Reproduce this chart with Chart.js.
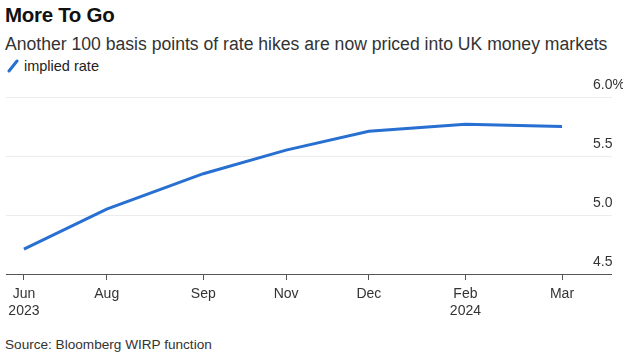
<!DOCTYPE html>
<html>
<head>
<meta charset="utf-8">
<script src="https://cdn.jsdelivr.net/npm/chart.js@4/dist/chart.umd.min.js"></script>
<style>
  body { margin: 0; background: #fff; font-family: "Liberation Sans", Arial, sans-serif; }
  #wrap { position: relative; width: 627px; height: 364px; overflow: hidden; }
  .txt { position: absolute; white-space: nowrap; }
  #title { left: 5px; top: 3px; font-size: 20.5px; font-weight: bold; color: #111; letter-spacing: -0.3px; }
  #subtitle { left: 5px; top: 34px; font-size: 17.6px; color: #333; }
  #legend { left: 7px; top: 58px; font-size: 14.5px; color: #222; }
  #legend svg { vertical-align: -2px; margin-right: 5px; }
  #source { left: 5px; top: 337px; font-size: 13.6px; color: #333; }
  #chartBox { position: absolute; left: 0; top: 70px; width: 627px; height: 260px; }
</style>
</head>
<body>
<div id="wrap">
  <div class="txt" id="title">More To Go</div>
  <div class="txt" id="subtitle">Another 100 basis points of rate hikes are now priced into UK money markets</div>
  <div class="txt" id="legend"><svg width="12" height="14"><line x1="2" y1="12" x2="10" y2="2" stroke="#2770d1" stroke-width="3" stroke-linecap="round"/></svg>implied rate</div>
  <div id="chartBox"><canvas id="rateChart"></canvas></div>
  <div class="txt" id="source">Source: Bloomberg WIRP function</div>
</div>
<script>
// MPC meeting dates and the implied Bank Rate priced for each
const meetingDates = ["2023-06-22", "2023-08-03", "2023-09-21", "2023-11-02", "2023-12-14", "2024-02-01", "2024-03-21"];
const tickLabels = [["Jun", "2023"], "Aug", "Sep", "Nov", "Dec", ["Feb", "2024"], "Mar"];
const impliedRate = [4.71, 5.05, 5.35, 5.55, 5.71, 5.77, 5.75];
const yTicks = [4.5, 5.0, 5.5, 6.0];

const DAY = 86400000;
const start = Date.parse(meetingDates[0]);
const days = meetingDates.map(d => Math.round((Date.parse(d) - start) / DAY));

const points = days.map((d, i) => ({ x: d, y: impliedRate[i] }));

const ctx = document.getElementById("rateChart").getContext("2d");
new Chart(ctx, {
    type: "line",
    data: {
        datasets: [{
            label: "implied rate",
            data: points,
            borderColor: "#2770d1",
            borderWidth: 3,
            pointRadius: 0,
            tension: 0,
            fill: false
        }]
    },
    options: {
        responsive: true,
        maintainAspectRatio: false,
        animation: false,
        layout: { padding: { top: 27, left: 6, right: 4, bottom: 0 } },
        plugins: {
            legend: { display: false },
            tooltip: { enabled: false }
        },
        scales: {
            x: {
                type: "linear",
                min: -9.1,
                max: 287.2,
                afterBuildTicks: axis => { axis.ticks = days.map(v => ({ value: v })); },
                afterFit: axis => { axis.height = 56; },
                ticks: {
                    autoSkip: false,
                    maxRotation: 0,
                    padding: 6,
                    color: "#333",
                    font: { family: "Liberation Sans", size: 14 },
                    callback: v => tickLabels[days.indexOf(v)]
                },
                grid: {
                    drawOnChartArea: false,
                    drawTicks: true,
                    tickLength: 6,
                    color: "#555"
                },
                border: { display: false }
            },
            y: {
                position: "right",
                min: 4.5,
                max: 6.0,
                afterBuildTicks: axis => { axis.ticks = yTicks.map(v => ({ value: v })); },
                afterFit: axis => { axis.width = 33; },
                ticks: {
                    crossAlign: "near",
                    padding: -19,
                    labelOffset: -12,
                    color: "#333",
                    font: { family: "Liberation Sans", size: 14 },
                    callback: v => v === 6 ? "6.0%" : v.toFixed(1)
                },
                grid: {
                    drawTicks: true,
                    tickLength: 22,
                    color: c => c.tick && c.tick.value === 4.5 ? "#555" : "#ececec",
                    lineWidth: 1
                },
                border: { display: false }
            }
        }
    }
});
</script>
</body>
</html>
